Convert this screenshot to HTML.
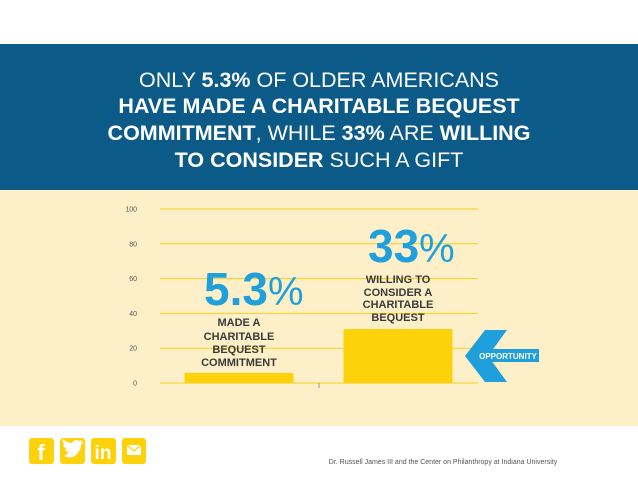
<!DOCTYPE html>
<html><head><meta charset="utf-8"><style>
html,body{margin:0;padding:0;width:638px;height:493px;overflow:hidden;background:#fff;font-family:"Liberation Sans",sans-serif}
</style></head><body>
<svg width="638" height="493" viewBox="0 0 638 493" xmlns="http://www.w3.org/2000/svg" font-family="Liberation Sans, sans-serif">
<rect x="0" y="0" width="638" height="493" fill="#fff"/>
<rect x="0" y="44" width="638" height="146" fill="#0b5a88"/>
<rect x="0" y="190" width="638" height="236" fill="#fdf0c9"/>
<g fill="#fff" font-size="21.5" text-anchor="middle">
<text x="319" y="87">ONLY <tspan font-weight="bold">5.3%</tspan> OF OLDER AMERICANS</text>
<text x="319" y="113" font-weight="bold">HAVE MADE A CHARITABLE BEQUEST</text>
<text x="319" y="140"><tspan font-weight="bold">COMMITMENT</tspan>, WHILE <tspan font-weight="bold">33%</tspan> ARE <tspan font-weight="bold">WILLING</tspan></text>
<text x="319" y="167"><tspan font-weight="bold">TO CONSIDER</tspan> SUCH A GIFT</text>
</g>
<g id="chart"></g>
<g>
<text x="204" y="305" font-size="46" font-weight="bold" fill="#1fa0dc">5.3<tspan font-weight="normal" font-size="40">%</tspan></text>
<g font-size="11" font-weight="bold" fill="#3a3a3a" text-anchor="middle">
<text x="239" y="326">MADE A</text><text x="239" y="340">CHARITABLE</text><text x="239" y="353">BEQUEST</text><text x="239" y="366">COMMITMENT</text>
</g></g>
<g>
<text x="368" y="262" font-size="46" font-weight="bold" fill="#1fa0dc">33<tspan font-weight="normal" font-size="40">%</tspan></text>
<g font-size="11" font-weight="bold" fill="#3a3a3a" text-anchor="middle">
<text x="398" y="283">WILLING TO</text><text x="398" y="296">CONSIDER A</text><text x="398" y="308">CHARITABLE</text><text x="398" y="321">BEQUEST</text>
</g></g>
<g>
<polygon points="485,330 507,330 488,356 507,382 485,382 465,356" fill="#1fa0dc"/>
<rect x="477" y="349" width="62" height="13" fill="#1fa0dc"/>
<text x="508" y="359" font-size="8" font-weight="bold" fill="#fff" text-anchor="middle">OPPORTUNITY</text>
</g>
<g>
<rect x="29" y="438" width="25" height="26" rx="3" fill="#fdd20a"/>
<text x="41" y="460" font-size="22" font-weight="bold" fill="#fff" text-anchor="middle">f</text>
<rect x="60" y="438" width="25" height="26" rx="3" fill="#fdd20a"/>
<path d="M64,456 q8,4 14,-3 q3,-4 3,-9 l3,-2 -3,0 1,-2 -3,1 q-4,-3 -7,2 q-5,0 -9,-4 q-1,4 2,6 l-2,0 q1,3 4,4 l-2,0 q1,3 4,3 q-3,3 -5,4z" fill="#fff"/>
<rect x="91" y="438" width="25" height="26" rx="3" fill="#fdd20a"/>
<text x="103" y="459" font-size="19" font-weight="bold" fill="#fff" text-anchor="middle">in</text>
<rect x="122" y="438" width="24" height="26" rx="3" fill="#fdd20a"/>
<rect x="127" y="445" width="14" height="10" fill="#fff"/><path d="M127,445 l7,6 7,-6" stroke="#fdd20a" stroke-width="1.3" fill="none"/>
</g>
<text x="443" y="464" font-size="7" fill="#555" text-anchor="middle">Dr. Russell James III and the Center on Philanthropy at Indiana University</text>
</svg>
<script>
const categories = ["Made a charitable bequest commitment", "Willing to consider a charitable bequest"];
const values = [5.8, 31];
const ticks = [0, 20, 40, 60, 80, 100];
const NS = "http://www.w3.org/2000/svg";
const g = document.getElementById("chart");
const y0 = 383, y100 = 209, xL = 160, xR = 478;
function y(v){ return y0 - (v/100)*(y0 - y100); }
function xc(i){ return 239 + i*159; }
const bw = 109;
ticks.forEach(t=>{
  const l = document.createElementNS(NS,"line");
  l.setAttribute("x1",xL); l.setAttribute("x2",xR);
  l.setAttribute("y1",y(t)); l.setAttribute("y2",y(t));
  l.setAttribute("stroke","#f7cf1c"); l.setAttribute("stroke-width","1");
  
  
  g.appendChild(l);
  const tx = document.createElementNS(NS,"text");
  tx.setAttribute("x",137); tx.setAttribute("y",y(t)+2.5);
  tx.setAttribute("font-size","7"); tx.setAttribute("fill","#555");
  tx.setAttribute("text-anchor","end");
  tx.textContent = t;
  
  
  g.appendChild(tx);
});
const tk = document.createElementNS(NS,"line");
tk.setAttribute("x1",319); tk.setAttribute("x2",319); tk.setAttribute("y1",y0); tk.setAttribute("y2",y0+5);
tk.setAttribute("stroke","#999");


g.appendChild(tk);
values.forEach((v,i)=>{
  const r = document.createElementNS(NS,"rect");
  r.setAttribute("x", xc(i)-bw/2); r.setAttribute("width", bw);
  r.setAttribute("y", y(v)); r.setAttribute("height", y0 - y(v));
  r.setAttribute("fill","#fdd20a");
  
  
  g.appendChild(r);
});
</script>
</body></html>
